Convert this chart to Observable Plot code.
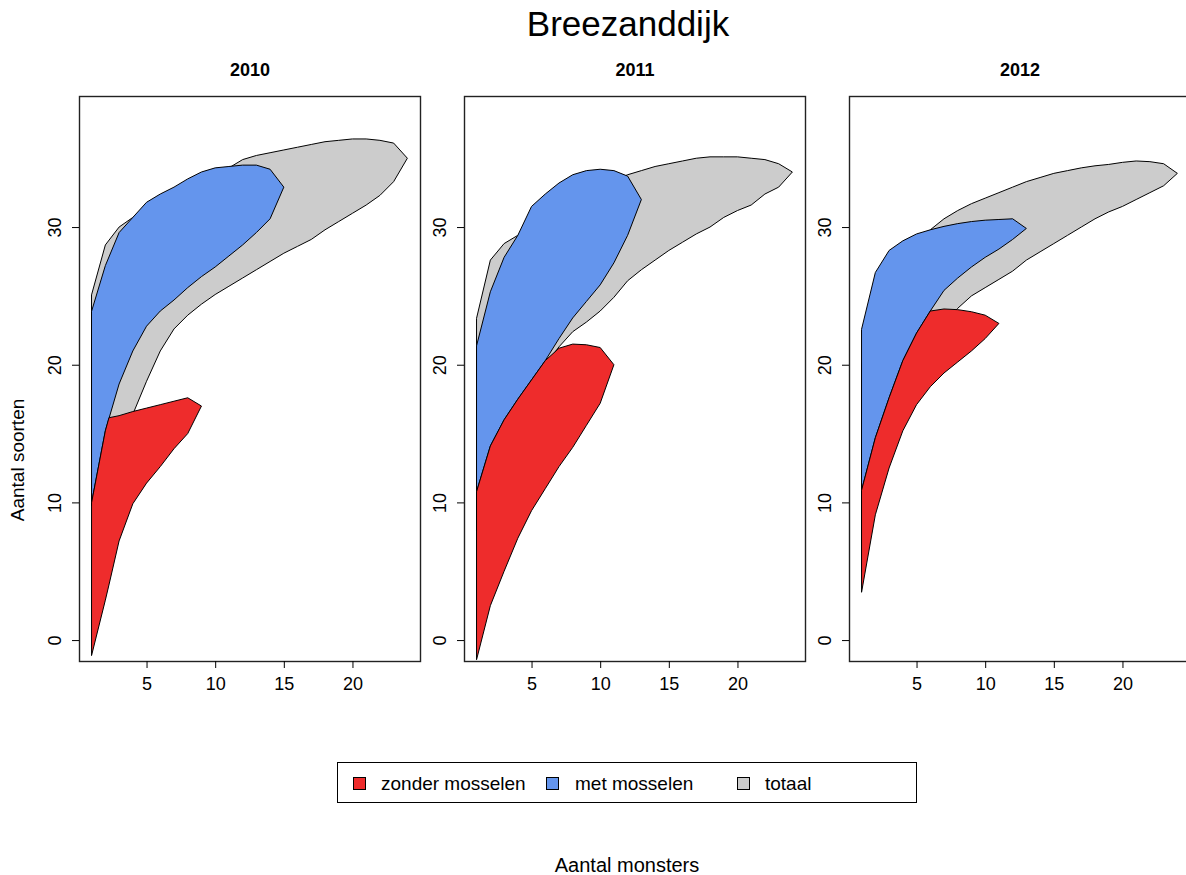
<!DOCTYPE html>
<html>
<head>
<meta charset="utf-8">
<script src="https://cdn.jsdelivr.net/npm/d3@7"></script>
<script src="https://cdn.jsdelivr.net/npm/@observablehq/plot@0.6"></script>
<style>
  html, body { margin: 0; padding: 0; background: #fff; overflow: hidden; }
  #page { position: relative; width: 1186px; height: 875px; overflow: hidden; background: #fff;
          font-family: "Liberation Sans", Arial, sans-serif; color: #000; }
  .abs { position: absolute; white-space: nowrap; }
  .sw { position: absolute; width: 11px; height: 11px; border: 1px solid #000; }
</style>
</head>
<body>
<div id="page">
  <div class="abs" style="left:0;width:1256px;top:4px;text-align:center;font-size:35px;">Breezanddijk</div>
  <div class="abs" style="left:0;width:1254px;top:854px;text-align:center;font-size:20px;">Aantal monsters</div>
  <div class="abs" style="left:18px;top:460px;font-size:19px;transform:translate(-50%,-50%) rotate(-90deg);">Aantal soorten</div>
  <div class="abs" style="left:337px;top:762px;width:578px;height:39px;border:1px solid #000;"></div>
  <div class="sw" style="left:353px;top:777px;background:#EE2C2C;"></div>
  <div class="abs" style="left:381px;top:773px;font-size:19px;">zonder mosselen</div>
  <div class="sw" style="left:546px;top:777px;background:#6495ED;"></div>
  <div class="abs" style="left:575px;top:773px;font-size:19px;">met mosselen</div>
  <div class="sw" style="left:737px;top:777px;background:#CCCCCC;"></div>
  <div class="abs" style="left:765px;top:773px;font-size:19px;">totaal</div>
</div>
<script>
// ---- data ----
const years = ["2010", "2011", "2012"];
const seriesNames = ["zonder mosselen", "met mosselen", "totaal"];
const seriesColors = ["#EE2C2C", "#6495ED", "#CCCCCC"];
const xTicks = [5, 10, 15, 20];
const yTicks = [0, 10, 20, 30];

const xTotaal = [1,2,3,4,5,6,7,8,9,10,11,12,13,14,15,16,17,18,19,20,21,22,23,24];

// 2010
const tot2010Hi = [25.1,28.7,30.0,30.7,31.4,32.0,32.6,33.1,33.6,34.0,34.3,34.9,35.2,35.4,35.6,35.8,36.0,36.2,36.3,36.4,36.4,36.3,36.1,35.0];
const tot2010Lo = [9.8,14.0,15.9,16.4,18.8,21.0,22.6,23.6,24.4,25.1,25.7,26.3,26.9,27.5,28.1,28.6,29.1,29.8,30.4,31.0,31.6,32.3,33.3,35.0];
const xMet2010 = [1,2,3,4,5,6,7,8,9,10,11,12,13,14,15];
const met2010Hi = [23.9,27.2,29.6,30.7,31.8,32.4,32.9,33.5,34.0,34.3,34.4,34.5,34.5,34.2,32.9];
const met2010Lo = [10.0,15.2,18.6,21.0,22.8,23.9,24.7,25.6,26.4,27.1,27.9,28.7,29.6,30.6,32.9];
const xZonder2010 = [1,2,2.26,3,4,5,6,7,8,9];
const zonder2010Hi = [10.0,15.2,16.15,16.3,16.6,16.85,17.1,17.35,17.6,17.0];
const zonder2010Lo = [-1.1,2.9,4.0,7.2,9.9,11.4,12.6,13.9,15.0,17.0];

// 2011
const tot2011Hi = [23.4,27.6,28.8,29.4,30.3,31.0,31.6,32.1,32.6,33.0,33.4,33.8,34.1,34.4,34.6,34.8,35.0,35.1,35.1,35.1,35.0,34.9,34.6,34.0];
const tot2011Lo = [8.0,11.0,13.5,16.0,18.0,20.0,21.3,22.4,23.1,23.9,24.9,26.1,26.9,27.6,28.3,28.9,29.5,30.0,30.7,31.2,31.6,32.4,32.9,34.0];
const xMet2011 = [1,2,3,4,5,6,7,8,9,10,11,12,13];
const met2011Hi = [21.4,25.3,27.8,29.4,31.5,32.4,33.2,33.8,34.1,34.2,34.1,33.7,32.0];
const met2011Lo = [10.8,14.1,16.0,17.5,18.9,20.3,21.9,23.4,24.6,25.8,27.4,29.4,32.0];
const xZonder2011 = [1,2,3,4,5,6,7,8,9,10,11];
const zonder2011Hi = [10.8,14.1,16.0,17.5,18.9,20.3,21.2,21.5,21.45,21.25,20.0];
const zonder2011Lo = [-1.4,2.5,5.0,7.4,9.4,11.0,12.6,14.0,15.6,17.2,20.0];

// 2012
const tot2012Hi = [20.0,24.0,26.5,28.0,29.0,29.8,30.6,31.2,31.7,32.1,32.5,32.9,33.3,33.6,33.9,34.1,34.3,34.45,34.55,34.7,34.8,34.75,34.6,33.9];
const tot2012Lo = [5.0,10.0,14.0,17.0,19.0,21.0,23.0,24.1,25.0,25.6,26.2,26.8,27.6,28.2,28.8,29.4,30.0,30.6,31.1,31.5,32.0,32.5,33.0,33.9];
const xMet2012 = [1,2,3,4,5,6,7,8,9,10,11,12,13];
const met2012Hi = [22.6,26.7,28.3,29.0,29.5,29.8,30.05,30.25,30.4,30.5,30.55,30.6,29.9];
const met2012Lo = [10.9,14.7,17.6,20.3,22.3,23.9,25.4,26.3,27.1,27.8,28.4,29.1,29.9];
const xZonder2012 = [1,2,3,4,5,6,7,8,9,10,11];
const zonder2012Hi = [10.9,14.7,17.6,20.3,22.3,23.9,24.05,24.0,23.85,23.6,23.0];
const zonder2012Lo = [3.5,9.1,12.5,15.2,17.1,18.4,19.4,20.2,21.0,21.9,23.0];

// ---- build ----
const rows = (xs, lo, hi) => xs.map((x, i) => ({x, lo: lo[i], hi: hi[i]}));
const panels = [
  {year: years[0], tot: rows(xTotaal, tot2010Lo, tot2010Hi), met: rows(xMet2010, met2010Lo, met2010Hi), zon: rows(xZonder2010, zonder2010Lo, zonder2010Hi)},
  {year: years[1], tot: rows(xTotaal, tot2011Lo, tot2011Hi), met: rows(xMet2011, met2011Lo, met2011Hi), zon: rows(xZonder2011, zonder2011Lo, zonder2011Hi)},
  {year: years[2], tot: rows(xTotaal, tot2012Lo, tot2012Hi), met: rows(xMet2012, met2012Lo, met2012Hi), zon: rows(xZonder2012, zonder2012Lo, zonder2012Hi)}
];
const frameLefts = [79, 464, 849];
const mL = 79;
const page = document.getElementById("page");

panels.forEach((p, i) => {
  const area = (data, color) => Plot.areaY(data, {x: "x", y1: "lo", y2: "hi", fill: color, stroke: "#000", strokeWidth: 1});
  const chart = Plot.plot({
    width: 430, height: 706,
    marginLeft: mL, marginRight: 10, marginTop: 96, marginBottom: 45,
    style: {fontFamily: "'Liberation Sans', Arial, sans-serif", fontSize: "18px", color: "#000", background: "transparent", overflow: "visible"},
    x: {domain: [0.08, 24.92]},
    y: {domain: [-1.52, 39.52]},
    marks: [
      area(p.tot, seriesColors[2]),
      area(p.met, seriesColors[1]),
      area(p.zon, seriesColors[0]),
      Plot.frame({stroke: "#222", strokeWidth: 1.4}),
      Plot.axisX({ticks: xTicks, tickSize: 7, tickPadding: 9, label: null, fontSize: 18}),
      Plot.axisY({ticks: yTicks, tickSize: 7, tickFormat: () => "", label: null}),
      Plot.text(yTicks, {y: d => d, text: d => String(d), frameAnchor: "left", dx: -24, rotate: -90, textAnchor: "middle", lineAnchor: "middle", fontSize: 18}),
      Plot.text([p.year], {text: d => d, frameAnchor: "top", dy: -26, fontWeight: "bold", fontSize: 18, lineAnchor: "middle"})
    ]
  });
  chart.style.position = "absolute";
  chart.style.left = (frameLefts[i] - mL) + "px";
  chart.style.top = "0px";
  page.appendChild(chart);
});
</script>
</body>
</html>
